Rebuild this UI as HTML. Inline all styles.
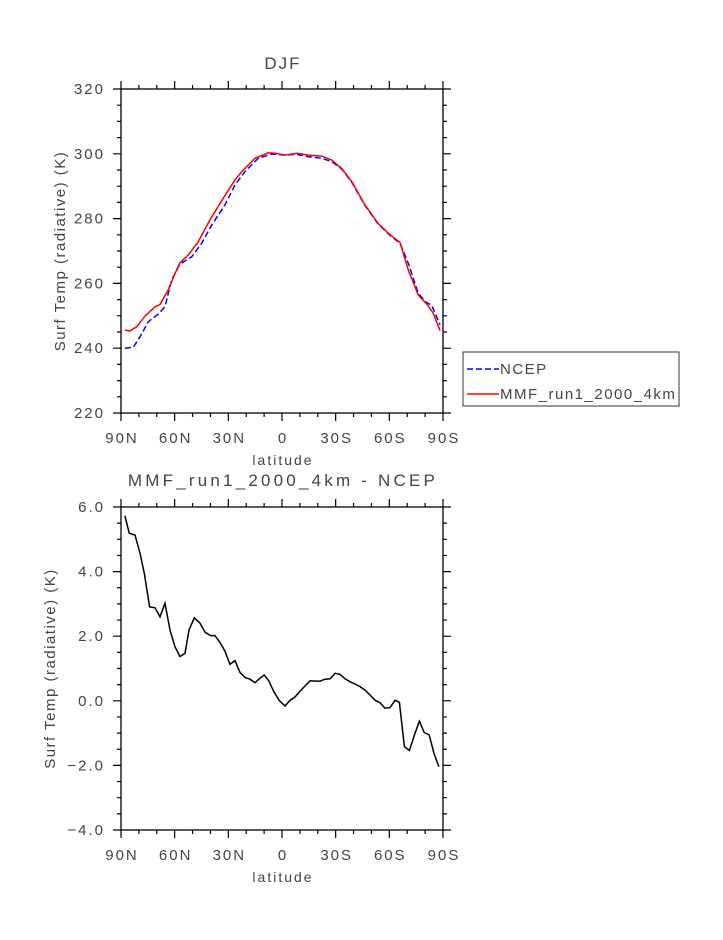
<!DOCTYPE html>
<html><head><meta charset="utf-8"><style>
body{margin:0;background:#fff}
svg text{font-family:"Liberation Sans",sans-serif;fill:#444;font-weight:300}
</style></head><body>
<svg id="c" width="723" height="935" xmlns="http://www.w3.org/2000/svg"></svg>
<script>
// Top panel data (lat offset in degrees from 90N: 0..180)
const redLat=[2.2,5.0,8.8,13.4,19.0,21.8,26.4,30.2,33.0,37.6,43.2,49.7,55.9,63.7,67.5,74.9,82.3,86.1,91.7,98.2,104.7,112.2,117.8,123.4,129.0,136.4,143.8,149.4,156.0,160.6,166.2,171.7,174.5,178.4];
const redVal=[245.6,245.3,246.6,249.9,252.8,253.5,258.0,263.1,266.4,268.8,272.9,279.6,285.2,291.9,294.5,298.6,300.3,300.2,299.6,300.2,299.6,299.3,298.1,295.5,291.4,284.2,278.5,275.5,272.6,264.1,256.4,253.1,250.8,245.4];
const blueLat=[2.2,6.9,10.6,15.3,20.8,24.6,28.3,33.0,39.5,45.1,50.7,58.1,63.7,69.3,76.7,84.2,91.7,98.2,104.7,112.2,117.8,123.4,129.0,136.4,143.8,149.4,156.0,160.6,166.2,170.9,173.6,178.4];
const blueVal=[240.0,240.3,243.5,248.2,250.5,252.8,261.1,266.0,268.2,272.4,278.0,284.2,290.4,294.5,298.6,299.9,299.6,299.8,299.1,298.6,297.6,295.3,291.2,284.0,278.3,275.3,272.3,266.2,256.9,254.0,253.3,247.2];
// Bottom panel data
const diffLat=[2.2,4.6,7.8,10.6,13.0,16.0,19.0,21.8,24.6,27.4,30.2,33.0,35.8,38.0,41.0,44.2,47.0,50.1,52.5,55.3,58.1,60.9,63.7,66.5,69.3,72.1,74.9,77.7,80.1,82.7,85.5,88.3,91.7,94.5,97.3,100.1,102.9,105.7,108.5,111.3,114.0,116.9,119.6,122.4,125.2,128.0,130.8,133.6,136.4,139.2,142.0,144.8,147.6,150.4,153.2,155.6,158.4,161.2,164.0,166.8,169.5,172.3,175.1,177.7];
const diffVal=[5.73,5.19,5.13,4.57,3.95,2.91,2.88,2.60,3.02,2.19,1.67,1.37,1.47,2.19,2.57,2.40,2.12,2.02,2.02,1.81,1.54,1.13,1.24,0.88,0.72,0.67,0.56,0.70,0.80,0.61,0.28,0.02,-0.16,0.02,0.12,0.30,0.46,0.62,0.61,0.61,0.67,0.68,0.85,0.82,0.68,0.59,0.52,0.44,0.33,0.18,0.02,-0.06,-0.23,-0.21,0.02,-0.05,-1.42,-1.54,-1.06,-0.63,-0.98,-1.06,-1.65,-2.04];
const xLabels=["90N","60N","30N","0","30S","60S","90S"];
const topTicks=[220,240,260,280,300,320];
const botTicks=["\u22124.0","\u22122.0","0.0","2.0","4.0","6.0"];

const svg=document.getElementById('c');
const NS='http://www.w3.org/2000/svg';
function mk(t,a,parent){const e=document.createElementNS(NS,t);for(const k in a)e.setAttribute(k,a[k]);(parent||svg).appendChild(e);return e;}
const X0=121,X1=443;
const xs=d=>X0+(d/180)*(X1-X0);

function panel(pname,Y0,Y1,vmin,vmax,major,minor,labels,ytitle){
  const g=mk('g',{});
  
  
  const ys=v=>Y1-(v-vmin)/(vmax-vmin)*(Y1-Y0);
  const fr=mk('rect',{x:X0,y:Y0,width:X1-X0,height:Y1-Y0,fill:'none',stroke:'#000','stroke-width':1.3},g);
  
  
  let p='';
  for(let d=0;d<=180;d+=10){const L=d%30==0?8:4;const x=xs(d);p+=`M${x},${Y0}v${-L}M${x},${Y1}v${L}`;}
  for(let v=vmin;v<=vmax+1e-9;v+=minor){const r=(v-vmin)/major;const L=Math.abs(r-Math.round(r))<1e-6?8:4;const y=ys(v);p+=`M${X0},${y}h${-L}M${X1},${y}h${L}`;}
  mk('path',{d:p,stroke:'#000','stroke-width':1.2,fill:'none'},g);
  xLabels.forEach((l,i)=>{const t=mk('text',{x:xs(i*30)+1,y:Y1+30,'text-anchor':'middle','font-size':15,'letter-spacing':2},g);t.textContent=l;
    });
  labels.forEach((l,i)=>{const t=mk('text',{x:105,y:ys(vmin+i*major)+5,'text-anchor':'end','font-size':15,'letter-spacing':2},g);t.textContent=l;
    });
  const xt=mk('text',{x:283,y:Y1+52,'text-anchor':'middle','font-size':14,'letter-spacing':2},g);xt.textContent='latitude';
  
  const yc=(Y0+Y1)/2;
  const yt=mk('text',{x:0,y:0,'text-anchor':'middle','font-size':15,'letter-spacing':1.5,transform:`translate(${pname=='top-panel'?65:55},${yc}) rotate(-90)`},g);yt.textContent=ytitle;
  
  return {g,ys};
}
function line(g,ys,lat,val,color,dash,lname){
  const d=lat.map((a,i)=>(i?'L':'M')+xs(a).toFixed(1)+','+ys(val[i]).toFixed(1)).join('');
  const a={d:d,fill:'none',stroke:color,'stroke-width':1.5};if(dash)a['stroke-dasharray']=dash;
  const e=mk('path',a,g);
  
  
}
const t1=mk('text',{x:283,y:69,'text-anchor':'middle','font-size':17,'letter-spacing':2});t1.textContent='DJF';

const topPanel=panel('top-panel',89,413,220,320,20,5,topTicks.map(String),'Surf Temp (radiative) (K)');
line(topPanel.g,topPanel.ys,blueLat,blueVal,'#0000ff','6,3','ncep-line');
line(topPanel.g,topPanel.ys,redLat,redVal,'#ff0000',null,'mmf-line');

const t2=mk('text',{x:283,y:486,'text-anchor':'middle','font-size':17,'letter-spacing':3.2});t2.textContent='MMF_run1_2000_4km - NCEP';

const botPanel=panel('bottom-panel',507,830,-4,6,2,0.5,botTicks,'Surf Temp (radiative) (K)');
line(botPanel.g,botPanel.ys,diffLat,diffVal,'#000',null,'difference-line');

// legend
const lg=mk('g',{});


mk('rect',{x:463,y:352,width:216,height:54,fill:'#fff',stroke:'#333','stroke-width':1},lg);
mk('path',{d:'M467,369h32',stroke:'#0000ff','stroke-width':1.5,'stroke-dasharray':'6,3'},lg);
mk('path',{d:'M467,394h32',stroke:'#ff0000','stroke-width':1.5},lg);
const l1=mk('text',{x:500,y:374,'font-size':15,'letter-spacing':1.5},lg);l1.textContent='NCEP';

const l2=mk('text',{x:500,y:399,'font-size':15,'letter-spacing':1.5},lg);l2.textContent='MMF_run1_2000_4km';

</script>
</body></html>
